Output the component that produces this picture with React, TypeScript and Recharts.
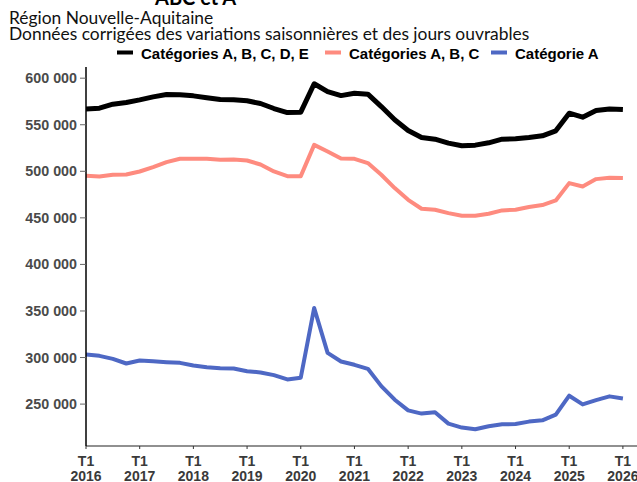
import React from "react";
import { LineChart, Line, XAxis, YAxis } from "recharts";

const years = ["2016", "2017", "2018", "2019", "2020", "2021", "2022", "2023", "2024", "2025", "2026"];

const catABCDE = [
  567000, 567800, 572100, 573900, 576700, 579900, 582400, 582100,
  581000, 578900, 577000, 576800, 575700, 572800, 567400, 563100,
  563500, 594000, 585600, 581300, 583900, 582800, 569500, 555300,
  543800, 536300, 534500, 530300, 527400, 528100, 530600, 534500,
  534900, 536300, 538100, 543500, 562400, 558100, 565200, 567000,
  566300,
];

const catABC = [
  495200, 494500, 496300, 496600, 499800, 504500, 509900, 513400,
  513400, 513400, 512300, 512600, 511600, 507300, 499800, 494800,
  494800, 528400, 521300, 513700, 513400, 508800, 496300, 482000,
  469400, 459800, 458700, 455100, 452300, 452300, 454400, 458000,
  458700, 461600, 463700, 468700, 487300, 483700, 491600, 493000,
  492700,
];

const catA = [
  303200, 301800, 298600, 293600, 296800, 296000, 295000, 294300,
  291400, 289600, 288600, 288200, 285300, 284000, 281100, 276500,
  278300, 353200, 305000, 295700, 292200, 287900, 269300, 254700,
  243300, 239800, 241200, 229000, 224800, 223000, 226200, 228300,
  228600, 231200, 232600, 238700, 259000, 249700, 254300, 258300,
  256100,
];

const yTicks = [250000, 300000, 350000, 400000, 450000, 500000, 550000, 600000];

const data = catA.map((_, i) => ({
  i,
  abcde: catABCDE[i],
  abc: catABC[i],
  a: catA[i],
}));

const xTicks = years.map((_, k) => k * 4);

const fmt = (v: number) => {
  const s = String(Math.round(v));
  return s.replace(/\B(?=(\d{3})+(?!\d))/g, " ");
};

const AX_FONT = "Liberation Sans, Arial, sans-serif";

const XTick = (props: any) => {
  const { x, y, payload } = props;
  const k = Math.round(payload.value / 4);
  return (
    <g>
      <text x={x} y={y + 15} textAnchor="middle" fontFamily={AX_FONT} fontWeight="bold" fontSize={14} fill="#3a3a3a">T1</text>
      <text x={x} y={y + 29.5} textAnchor="middle" fontFamily={AX_FONT} fontWeight="bold" fontSize={14} fill="#3a3a3a">{years[k]}</text>
    </g>
  );
};

const legendItems = [
  { label: "Catégories A, B, C, D, E", color: "#000000", x: 117 },
  { label: "Catégories A, B, C", color: "#fe8b7f", x: 325 },
  { label: "Catégorie A", color: "#4e68c4", x: 491 },
];

export default function App() {
  return (
    <div style={{ position: "fixed", left: 0, top: 0, width: 637, height: 482, overflow: "hidden", background: "#fff" }}>
      <div style={{ position: "absolute", left: 0, top: 0 }}>
        <LineChart width={637} height={482} data={data} margin={{ top: 67, right: 0, bottom: 0, left: 0 }}>
          <XAxis
            dataKey="i"
            type="number"
            domain={[0, 41.05]}
            ticks={xTicks}
            allowDataOverflow
            height={36}
            tick={<XTick />}
            tickSize={3}
            tickLine={{ stroke: "#333" }}
            axisLine={{ stroke: "#222", strokeWidth: 1.2 }}
            interval={0}
          />
          <YAxis
            type="number"
            domain={[205000, 612000]}
            ticks={yTicks}
            allowDataOverflow
            width={86}
            tickFormatter={fmt}
            tickSize={6}
            tickMargin={3}
            tickLine={{ stroke: "#666" }}
            axisLine={{ stroke: "#000", strokeWidth: 1.5 }}
            tick={{ fontFamily: AX_FONT, fontWeight: "bold", fontSize: 14.3, fill: "#4a4a4a" }}
          />
          <Line dataKey="a" stroke="#4e68c4" strokeWidth={4} dot={false} isAnimationActive={false} strokeLinejoin="round" />
          <Line dataKey="abc" stroke="#fe8b7f" strokeWidth={4} dot={false} isAnimationActive={false} strokeLinejoin="round" />
          <Line dataKey="abcde" stroke="#000000" strokeWidth={5} dot={false} isAnimationActive={false} strokeLinejoin="round" />
        </LineChart>
      </div>
      <svg width={637} height={70} style={{ position: "absolute", left: 0, top: 0, pointerEvents: "none" }}>
        <text x={155} y={4.5} fontFamily="Lato, sans-serif" fontWeight="bold" fontSize={20} fill="#000">ABC et A</text>
        <text x={9} y={24} fontFamily="Lato, sans-serif" fontSize={17.4} fill="#111">Région Nouvelle-Aquitaine</text>
        <text x={9} y={39.5} fontFamily="Lato, sans-serif" fontSize={17.4} fill="#111">Données corrigées des variations saisonnières et des jours ouvrables</text>
        {legendItems.map((it) => (
          <g key={it.label}>
            <rect x={it.x} y={50.5} width={16} height={4} fill={it.color} />
            <text x={it.x + 24} y={58.5} fontFamily={AX_FONT} fontWeight="bold" fontSize={15} fill="#000">{it.label}</text>
          </g>
        ))}
      </svg>
    </div>
  );
}
